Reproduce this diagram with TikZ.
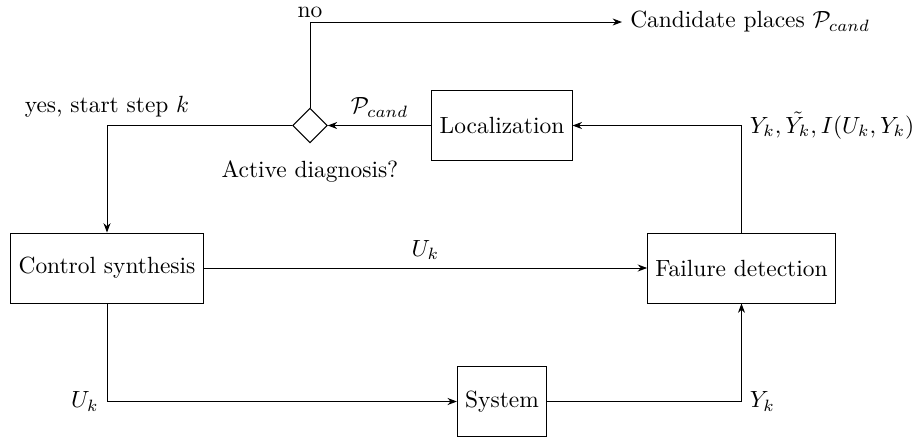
\documentclass[tikz,border=0pt]{standalone}
\usepackage{amsmath,amssymb}
\usetikzlibrary{arrows.meta,positioning,shapes.geometric}

\begin{document}
\begin{tikzpicture}[
  block/.style={draw, minimum height=1.05cm, inner sep=3.33pt},
  decision/.style={draw, diamond, minimum size=0.52cm, inner sep=0pt},
  arrow/.style={-{Stealth[length=4pt,width=3pt]}}
]
  \useasboundingbox (0,0) rectangle (13.785,-6.6);
  \node[block] (ctrl) at (1.605,-4.02) {Control synthesis};
  \node[block] (fail) at (11.1225,-4.02) {Failure detection};
  \node[block] (sys) at (7.53,-6.0225) {System};
  \node[block] (loc) at (7.53,-1.8825) {Localization};
  \node[decision] (dia) at (4.65,-1.8825) {};
  \node (question) at (4.65,-2.57) {Active diagnosis?};
  \node[anchor=west] (cand) at (9.33,-0.33) {Candidate places $\mathcal{P}_{cand}$};
  \draw[arrow] (loc.west) -- node[above] {$\mathcal{P}_{cand}$} (dia.east);
  \draw[arrow] (dia.north) |- node[pos=0.5, above, inner sep=1.5pt] {no} (cand.west);
  \draw[arrow] (dia.west) -| node[pos=0.5, above] {yes, start step $k$} (ctrl.north);
  \draw[arrow] (fail.north) |- node[pos=0.5, right] {$Y_k, \tilde{Y_k}, I(U_k,Y_k)$} (loc.east);
  \draw[arrow] (ctrl.east) -- node[above] {$U_k$} (fail.west);
  \draw[arrow] (ctrl.south) |- node[pos=0.5, left] {$U_k$} (sys.west);
  \draw[arrow] (sys.east) -| node[pos=0.5, right] {$Y_k$} (fail.south);
\end{tikzpicture}
\end{document}
